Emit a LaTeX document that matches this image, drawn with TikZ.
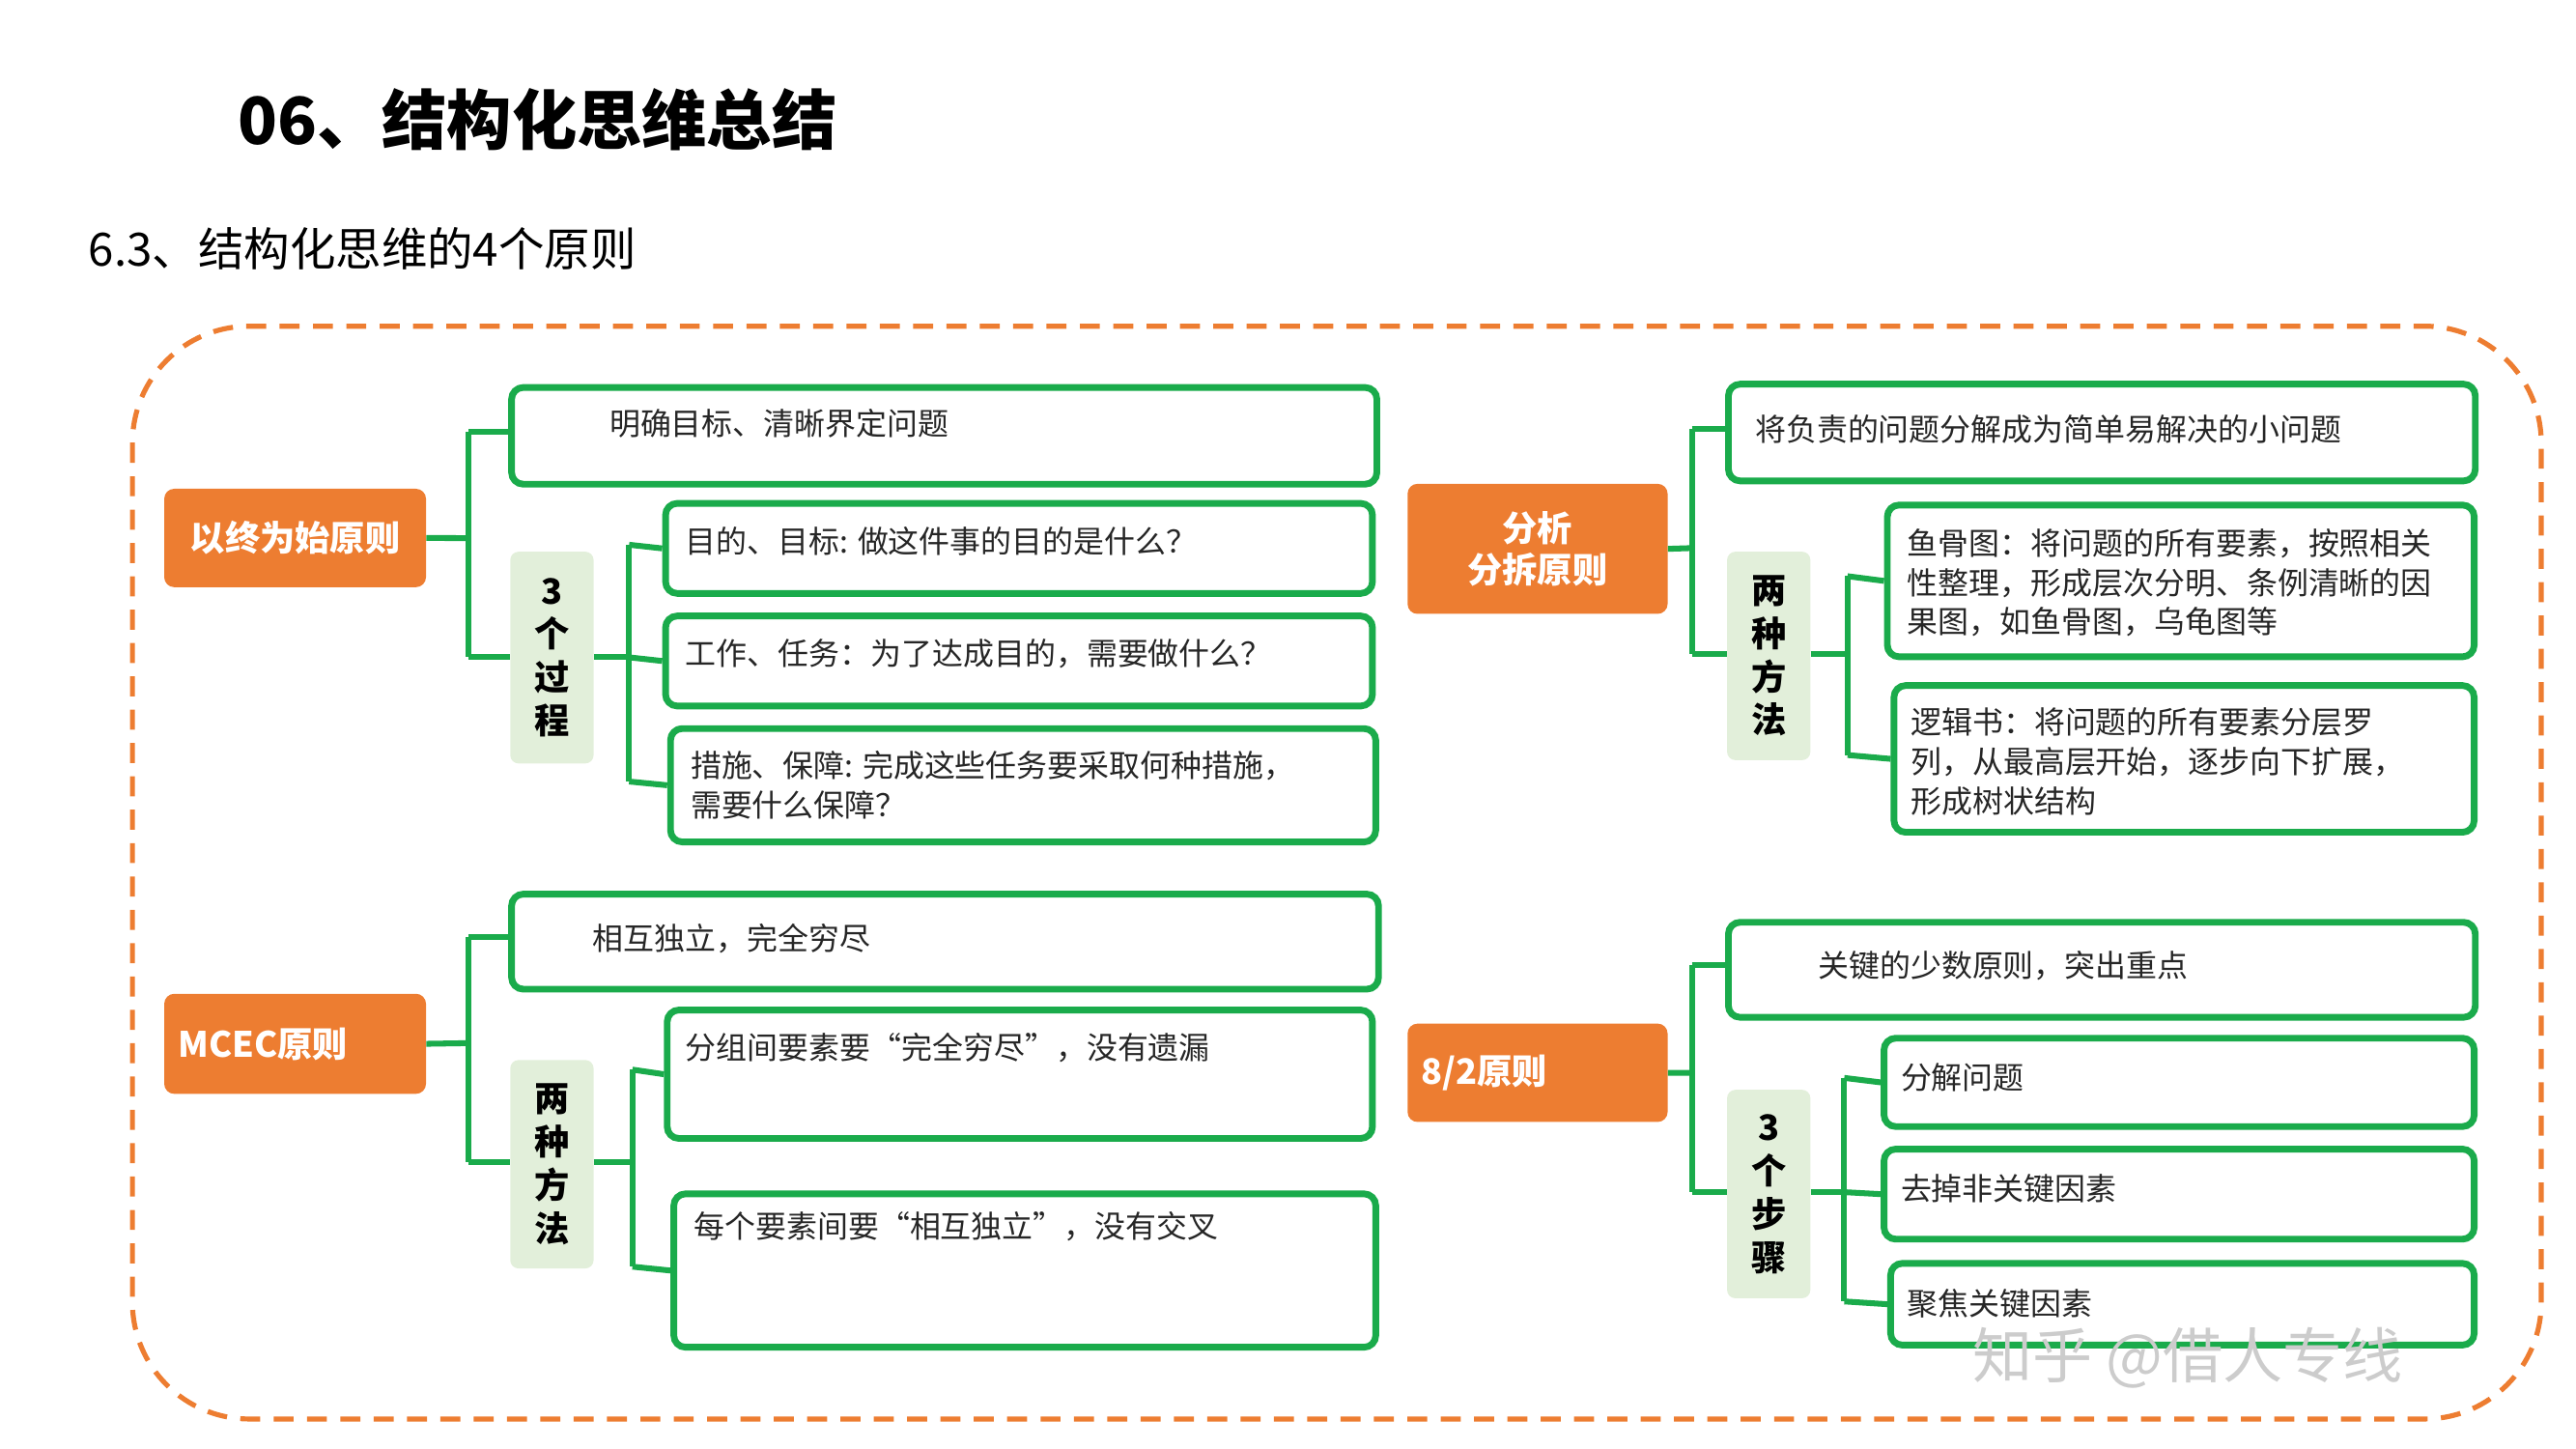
\documentclass[tikz,border=0pt]{standalone}
\usepackage{fontspec}
\setmainfont{Noto Sans CJK SC}
\begin{document}
\begin{tikzpicture}[x=0.993pt,y=-0.993pt,
  wbox/.style={draw=gr,line width=4pt,rounded corners=7pt,fill=white,anchor=north west,inner sep=0pt},
  obox/.style={fill=og,rounded corners=6pt,anchor=north west,inner sep=0pt,text=white,font=\bfseries\fontsize{21}{25}\selectfont,align=center},
  lbox/.style={fill=lg,rounded corners=5pt,anchor=north west,inner sep=0pt,font=\bfseries\fontsize{21}{26}\selectfont,align=center},
  txt/.style={anchor=west,inner sep=0pt,align=left,font=\fontsize{18.5}{23.5}\selectfont,text=black!85},
  con/.style={draw=gr,line width=3.5pt}]
\definecolor{og}{HTML}{ED7D31}\definecolor{gr}{HTML}{1AAB4B}\definecolor{lg}{HTML}{E2EFDA}
\useasboundingbox (0,0) rectangle (1556,875);
\node[anchor=west,font=\bfseries\fontsize{39}{44}\selectfont] (t) at (140,72) {06、结构化思维总结};
\node[anchor=west,font=\fontsize{27.5}{32}\selectfont] (st) at (50,150) {6.3、结构化思维的4个原则};
\draw[og,line width=3pt,dash pattern=on 12pt off 8pt,rounded corners=70pt] (80,197) rectangle (1535,857);
% Q1
\node[obox,minimum width=157pt,minimum height=59pt] (o1) at (99,295) {以终为始原则};
\node[lbox,minimum width=50pt,minimum height=127pt] (l1) at (308,333) {3\\个\\过\\程};
\node[wbox,minimum width=519pt,minimum height=58pt] (a1) at (307,232) {};
\node[wbox,minimum width=424pt,minimum height=54pt] (a2) at (400,302) {};
\node[wbox,minimum width=424pt,minimum height=54pt] (a3) at (400,370) {};
\node[wbox,minimum width=423pt,minimum height=68pt] (a4) at (403,438) {};
\node[txt] at (368,256) {明确目标、清晰界定问题};
\node[txt] at (414,327) {目的、目标: 做这件事的目的是什么？};
\node[txt] at (414,395) {工作、任务：为了达成目的，需要做什么？};
\node[txt] at (417,474) {措施、保障: 完成这些任务要采取何种措施，\\需要什么保障？};
\draw[con] (o1.east) -- (283,325) coordinate (j1);
\draw[con] (283,261) -- (283,397);
\draw[con] (283,261) -- (a1.west|-0,261);
\draw[con] (283,397) -- (l1.west|-0,397);
\draw[con] (l1.east|-0,397) -- (380,397);
\draw[con] (380,329) -- (380,472);
\draw[con] (380,329) -- (a2.west);
\draw[con] (380,397) -- (a3.west);
\draw[con] (380,472) -- (a4.west);
% Q2
\node[obox,minimum width=156pt,minimum height=78pt] (o2) at (850,292) {分析\\分拆原则};
\node[lbox,minimum width=50pt,minimum height=125pt] (l2) at (1043,333) {两\\种\\方\\法};
\node[wbox,minimum width=448pt,minimum height=58pt] (b1) at (1042,230) {};
\node[wbox,minimum width=352pt,minimum height=91pt] (b2) at (1138,303) {};
\node[wbox,minimum width=348pt,minimum height=88pt] (b3) at (1142,412) {};
\node[txt] at (1060,259) {将负责的问题分解成为简单易解决的小问题};
\node[txt] at (1152,352) {鱼骨图：将问题的所有要素，按照相关\\性整理，形成层次分明、条例清晰的因\\果图，如鱼骨图，乌龟图等};
\node[txt] at (1154,460) {逻辑书：将问题的所有要素分层罗\\列，从最高层开始，逐步向下扩展，\\形成树状结构};
\draw[con] (o2.east) -- (1022,331);
\draw[con] (1022,259) -- (1022,395);
\draw[con] (1022,259) -- (b1.west|-0,259);
\draw[con] (1022,395) -- (l2.west|-0,395);
\draw[con] (l2.east|-0,395) -- (1116,395);
\draw[con] (1116,348) -- (1116,456);
\draw[con] (1116,348) -- (b2.west);
\draw[con] (1116,456) -- (b3.west);
% Q3
\node[obox,minimum width=157pt,minimum height=60pt,text width=140pt,align=left] (o3) at (99,600) {MCEC原则};
\node[lbox,minimum width=50pt,minimum height=125pt] (l3) at (308,640) {两\\种\\方\\法};
\node[wbox,minimum width=520pt,minimum height=57pt] (c1) at (307,538) {};
\node[wbox,minimum width=423pt,minimum height=77pt] (c2) at (401,608) {};
\node[wbox,minimum width=421pt,minimum height=92pt] (c3) at (405,719) {};
\node[txt] at (358,567) {相互独立，完全穷尽};
\node[txt] at (414,633) {分组间要素要“完全穷尽”，没有遗漏};
\node[txt] at (419,741) {每个要素间要“相互独立”，没有交叉};
\draw[con] (o3.east) -- (283,630);
\draw[con] (283,566) -- (283,702);
\draw[con] (283,566) -- (c1.west|-0,566);
\draw[con] (283,702) -- (l3.west|-0,702);
\draw[con] (l3.east|-0,702) -- (382,702);
\draw[con] (382,646) -- (382,765);
\draw[con] (382,646) -- (c2.west);
\draw[con] (382,765) -- (c3.west);
% Q4
\node[obox,minimum width=156pt,minimum height=59pt,text width=140pt,align=left] (o4) at (850,618) {8/2原则};
\node[lbox,minimum width=50pt,minimum height=125pt] (l4) at (1043,658) {3\\个\\步\\骤};
\node[wbox,minimum width=448pt,minimum height=57pt] (d1) at (1042,555) {};
\node[wbox,minimum width=354pt,minimum height=53pt] (d2) at (1136,625) {};
\node[wbox,minimum width=354pt,minimum height=54pt] (d3) at (1136,692) {};
\node[wbox,minimum width=350pt,minimum height=49pt] (d4) at (1140,761) {};
\node[txt] at (1098,583) {关键的少数原则，突出重点};
\node[txt] at (1148,651) {分解问题};
\node[txt] at (1148,718) {去掉非关键因素};
\node[txt] at (1152,787) {聚焦关键因素};
\draw[con] (o4.east) -- (1022,648);
\draw[con] (1022,583) -- (1022,720);
\draw[con] (1022,583) -- (d1.west|-0,583);
\draw[con] (1022,720) -- (l4.west|-0,720);
\draw[con] (l4.east|-0,720) -- (1114,720);
\draw[con] (1114,651) -- (1114,786);
\draw[con] (1114,651) -- (d2.west);
\draw[con] (1114,720) -- (d3.west);
\draw[con] (1114,786) -- (d4.west);
\node[anchor=west,font=\fontsize{36}{40}\selectfont,text=black!20] (wm) at (1188,820) {知乎 @借人专线};
\end{tikzpicture}
\end{document}
